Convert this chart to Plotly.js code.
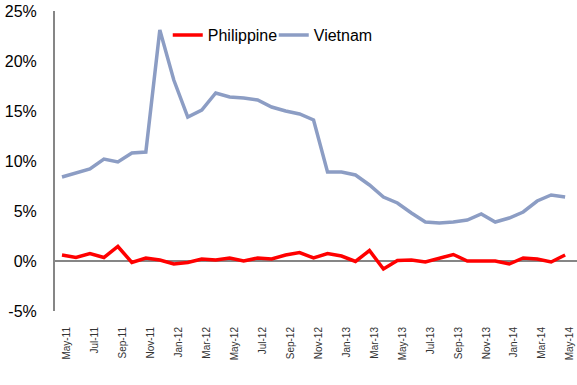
<!DOCTYPE html>
<html>
<head>
<meta charset="utf-8">
<script src="https://cdn.plot.ly/plotly-3.0.1.min.js"></script>
<style>html,body{margin:0;padding:0;background:#fff;}#chart{width:577px;height:385px;}</style>
</head>
<body>
<div id="chart"></div>
<script>
// Monthly categories (labels shown every second month)
const months = [
  "May-11","Jun-11","Jul-11","Aug-11","Sep-11","Oct-11","Nov-11","Dec-11",
  "Jan-12","Feb-12","Mar-12","Apr-12","May-12","Jun-12","Jul-12","Aug-12","Sep-12","Oct-12","Nov-12","Dec-12",
  "Jan-13","Feb-13","Mar-13","Apr-13","May-13","Jun-13","Jul-13","Aug-13","Sep-13","Oct-13","Nov-13","Dec-13",
  "Jan-14","Feb-14","Mar-14","Apr-14","May-14"
];
const tickLabels = [
  "May-11","Jul-11","Sep-11","Nov-11","Jan-12","Mar-12","May-12","Jul-12","Sep-12","Nov-12",
  "Jan-13","Mar-13","May-13","Jul-13","Sep-13","Nov-13","Jan-14","Mar-14","May-14"
];
const yTickVals = [-5, 0, 5, 10, 15, 20, 25];
const yTickText = ["-5%", "0%", "5%", "10%", "15%", "20%", "25%"];
const philippine = [0.6, 0.35, 0.75, 0.35, 1.45, -0.15, 0.3, 0.1, -0.3, -0.15, 0.2, 0.1, 0.3, 0.0, 0.3, 0.2, 0.6, 0.85, 0.3,
  0.75, 0.5, -0.05, 1.05, -0.8, 0.05, 0.1, -0.1, 0.3, 0.65, 0.0, 0.0, 0.0, -0.3, 0.3, 0.2, -0.1, 0.6];
const vietnam = [8.4, 8.8, 9.2, 10.2, 9.9, 10.8, 10.9, 23.1, 18.1, 14.4, 15.1, 16.8, 16.4, 16.3, 16.1, 15.4, 15.0, 14.7, 14.1,
  8.9, 8.9, 8.6, 7.6, 6.4, 5.8, 4.8, 3.9, 3.8, 3.9, 4.1, 4.7, 3.9, 4.3, 4.9, 6.0, 6.6, 6.4];

const font = "Liberation Sans, Arial, sans-serif";
const traces = [
  {x: months, y: philippine, name: "Philippine", type: "scatter", mode: "lines",
   line: {color: "#ff0000", width: 3.5}},
  {x: months, y: vietnam, name: "Vietnam", type: "scatter", mode: "lines",
   line: {color: "#8c9dc4", width: 3.5}}
];
const layout = {
  width: 577, height: 385,
  margin: {l: 55, r: 0, t: 11, b: 74},
  paper_bgcolor: "#fff", plot_bgcolor: "#fff",
  font: {family: font, color: "#000"},
  showlegend: true,
  legend: {orientation: "h", x: 0.216, xanchor: "left", y: 0.92, yanchor: "middle",
           font: {family: font, size: 16, color: "#000"}, bgcolor: "rgba(0,0,0,0)",
           itemwidth: 30, entrywidth: 61, tracegroupgap: 0},
  xaxis: {type: "category", range: [-0.5, 36.85], showgrid: false, zeroline: false,
          showline: false, ticks: "", tickmode: "array", tickvals: tickLabels, ticktext: tickLabels,
          tickangle: -90, tickfont: {family: font, size: 10, color: "#333"},
          ticklabelshift: 5, ticklabelstandoff: 13, fixedrange: true},
  yaxis: {range: [-5, 25], tickmode: "array", tickvals: yTickVals, ticktext: yTickText, showgrid: false,
          zeroline: true, zerolinecolor: "#868686", zerolinewidth: 1.5,
          showline: true, linecolor: "#868686", linewidth: 2, ticks: "",
          ticklabelstandoff: 13, tickfont: {family: font, size: 16, color: "#000"}, fixedrange: true}
};
Plotly.newPlot("chart", traces, layout, {displayModeBar: false, staticPlot: true});
</script>
</body>
</html>
